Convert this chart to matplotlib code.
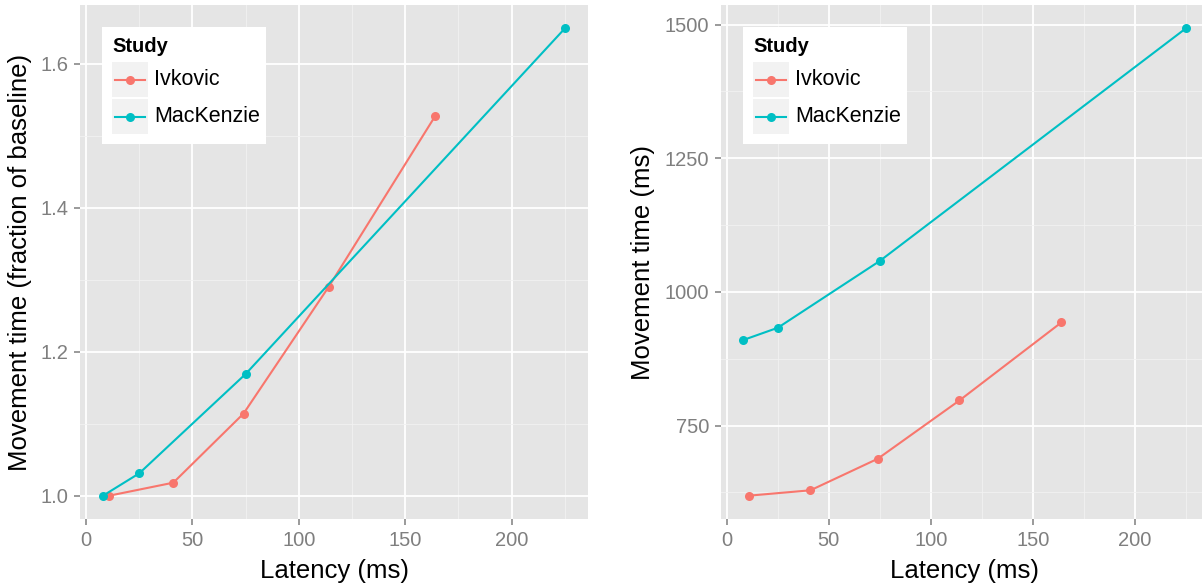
import matplotlib
matplotlib.use("Agg")
import matplotlib.pyplot as plt
from matplotlib.patches import Rectangle
from matplotlib.lines import Line2D

plt.rcParams['font.family'] = ['Liberation Sans', 'DejaVu Sans']

# latency (ms) and movement time for the two studies
ivk_latency = [11, 41, 74, 114, 164]
ivk_frac = [1.0, 1.018, 1.114, 1.29, 1.527]
ivk_ms = [619, 629, 688, 797, 943]

mac_latency = [8, 25, 75, 225]
mac_frac = [1.0, 1.031, 1.169, 1.649]
mac_ms = [910, 933, 1058, 1493]

studies = ["Ivkovic", "MacKenzie"]
colors = {"Ivkovic": "#F8766D", "MacKenzie": "#00BFC4"}

x_ticks = [0, 50, 100, 150, 200]
x_minor = [25, 75, 125, 175, 225]
frac_ticks = [1.0, 1.2, 1.4, 1.6]
frac_minor = [1.1, 1.3, 1.5]
ms_ticks = [750, 1000, 1250, 1500]
ms_minor = [625, 875, 1125, 1375]

W, H = 1202, 588
fig = plt.figure(figsize=(W / 100, H / 100), dpi=100)
fig.patch.set_facecolor("white")

GREY50 = "#7F7F7F"


def expand(vals, frac=0.05):
    lo, hi = min(vals), max(vals)
    d = (hi - lo) * frac
    return lo - d, hi + d


def style(ax, yticks, yminor, ylabels):
    ax.set_facecolor("#E5E5E5")
    for s in ax.spines.values():
        s.set_visible(False)
    ax.set_xticks(x_ticks)
    ax.set_xticks(x_minor, minor=True)
    ax.set_yticks(yticks)
    ax.set_yticklabels(ylabels)
    ax.set_yticks(yminor, minor=True)
    ax.grid(which="major", color="white", lw=1.3)
    ax.grid(which="minor", color="#F2F2F2", lw=0.6)
    ax.set_axisbelow(True)
    ax.tick_params(which="major", length=4.5, width=1.1, color=GREY50,
                   labelcolor=GREY50, labelsize=14.5, pad=4)
    ax.tick_params(which="minor", length=0)
    ax.set_xlabel("Latency (ms)", fontsize=18.5, labelpad=6.5)


def legend(ax):
    # figure pixel position of the panel's top-left corner
    bb = ax.get_position()
    x0 = bb.x0 * W
    y0 = (1 - bb.y1) * H

    def fx(x):
        return (x0 + x) / W

    def fy(y):
        return 1 - (y0 + y) / H

    fig.add_artist(Rectangle((fx(22), fy(139)), 164 / W, 117 / H,
                             transform=fig.transFigure, facecolor="white",
                             edgecolor="none", zorder=5))
    fig.text(fx(32), fy(47), "Study", fontsize=14.5, fontweight="bold",
             transform=fig.transFigure, va="baseline", zorder=6)
    for i, name in enumerate(studies):
        top = 57 + i * 37
        fig.add_artist(Rectangle((fx(32), fy(top + 35)), 36 / W, 35 / H,
                                 transform=fig.transFigure, facecolor="#F2F2F2",
                                 edgecolor="none", zorder=6))
        cy = fy(top + 17.5)
        fig.add_artist(Line2D([fx(35), fx(65)], [cy, cy], color=colors[name],
                              lw=1.5, transform=fig.transFigure, zorder=7))
        fig.add_artist(Line2D([fx(50)], [cy], color=colors[name], marker="o",
                              ms=6.5, mec="none", transform=fig.transFigure,
                              zorder=8))
        fig.text(fx(74), cy, name, fontsize=15.5, va="center",
                 transform=fig.transFigure, zorder=7)


ax1 = fig.add_axes([80 / W, 69 / H, 508 / W, 514 / H])
ax1.plot(ivk_latency, ivk_frac, "-o", color=colors["Ivkovic"], lw=1.5, ms=6.5, mec="none")
ax1.plot(mac_latency, mac_frac, "-o", color=colors["MacKenzie"], lw=1.5, ms=6.5, mec="none")
ax1.set_xlim(expand(ivk_latency + mac_latency))
ax1.set_ylim(expand(ivk_frac + mac_frac))
style(ax1, frac_ticks, frac_minor, ["%.1f" % v for v in frac_ticks])
ax1.set_ylabel("Movement time (fraction of baseline)", fontsize=18.5, labelpad=6)

ax2 = fig.add_axes([721 / W, 69 / H, 487 / W, 514 / H])
ax2.plot(ivk_latency, ivk_ms, "-o", color=colors["Ivkovic"], lw=1.5, ms=6.5, mec="none")
ax2.plot(mac_latency, mac_ms, "-o", color=colors["MacKenzie"], lw=1.5, ms=6.5, mec="none")
ax2.set_xlim(expand(ivk_latency + mac_latency))
ax2.set_ylim(expand(ivk_ms + mac_ms))
style(ax2, ms_ticks, ms_minor, [str(v) for v in ms_ticks])
ax2.set_ylabel("Movement time (ms)", fontsize=18.5, labelpad=7)

legend(ax1)
legend(ax2)

fig.savefig("out.png", dpi=100)
